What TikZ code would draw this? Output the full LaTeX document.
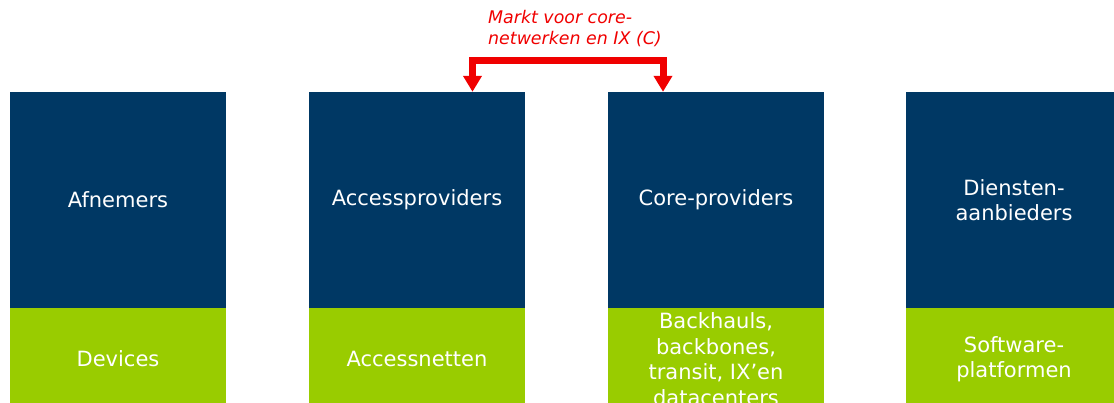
\documentclass[tikz,border=0pt]{standalone}
\usepackage{fontspec}
\setmainfont{DejaVu Sans}
\usetikzlibrary{arrows.meta}
\definecolor{dblue}{RGB}{0,56,100}
\definecolor{lgreen}{RGB}{153,204,0}
\definecolor{mred}{RGB}{240,0,0}
\tikzset{
  topbox/.style={fill=dblue, draw=none, minimum width=216pt, minimum height=216pt, inner sep=0pt, text=white, align=center, font=\fontsize{21}{24.5}\selectfont},
  botbox/.style={fill=lgreen, draw=none, minimum width=216pt, minimum height=102pt, inner sep=0pt, text=white, align=center, font=\fontsize{21}{25.5}\selectfont},
  marktarrow/.style={draw=mred, line width=7pt, {Triangle[length=16pt,width=18pt]}-{Triangle[length=16pt,width=18pt]}},
  lbl/.style={text=mred, align=left, inner sep=0pt, font=\fontsize{17.4}{20.7}\selectfont\itshape}
}
\begin{document}
\begin{tikzpicture}[x=1pt,y=-1pt]
\useasboundingbox (0,0) rectangle (1114,403);
\clip (0,0) rectangle (1114,403);
\node[topbox] (af) at (118,200) {Afnemers};
\node[topbox] (ap) at (417,200) {Accessproviders};
\node[topbox] (cp) at (716,200) {Core-providers};
\node[topbox] (da) at (1014,200) {Diensten-\\aanbieders};
\node[botbox] (dv) at (118,359) {Devices};
\node[botbox] (an) at (417,359) {Accessnetten};
\node[botbox] (bb) at (716,359) {Backhauls,\\backbones,\\transit, IX’en\\datacenters};
\node[botbox] (sp) at (1014,359) {Software-\\platformen};
\draw[marktarrow] ([xshift=-53pt]cp.north) -- ++(0,-31) -| ([xshift=55.5pt]ap.north);
\node[lbl, anchor=north west] (mk) at (488,10) {Markt voor core-\\netwerken en IX (C)};
\end{tikzpicture}
\end{document}
